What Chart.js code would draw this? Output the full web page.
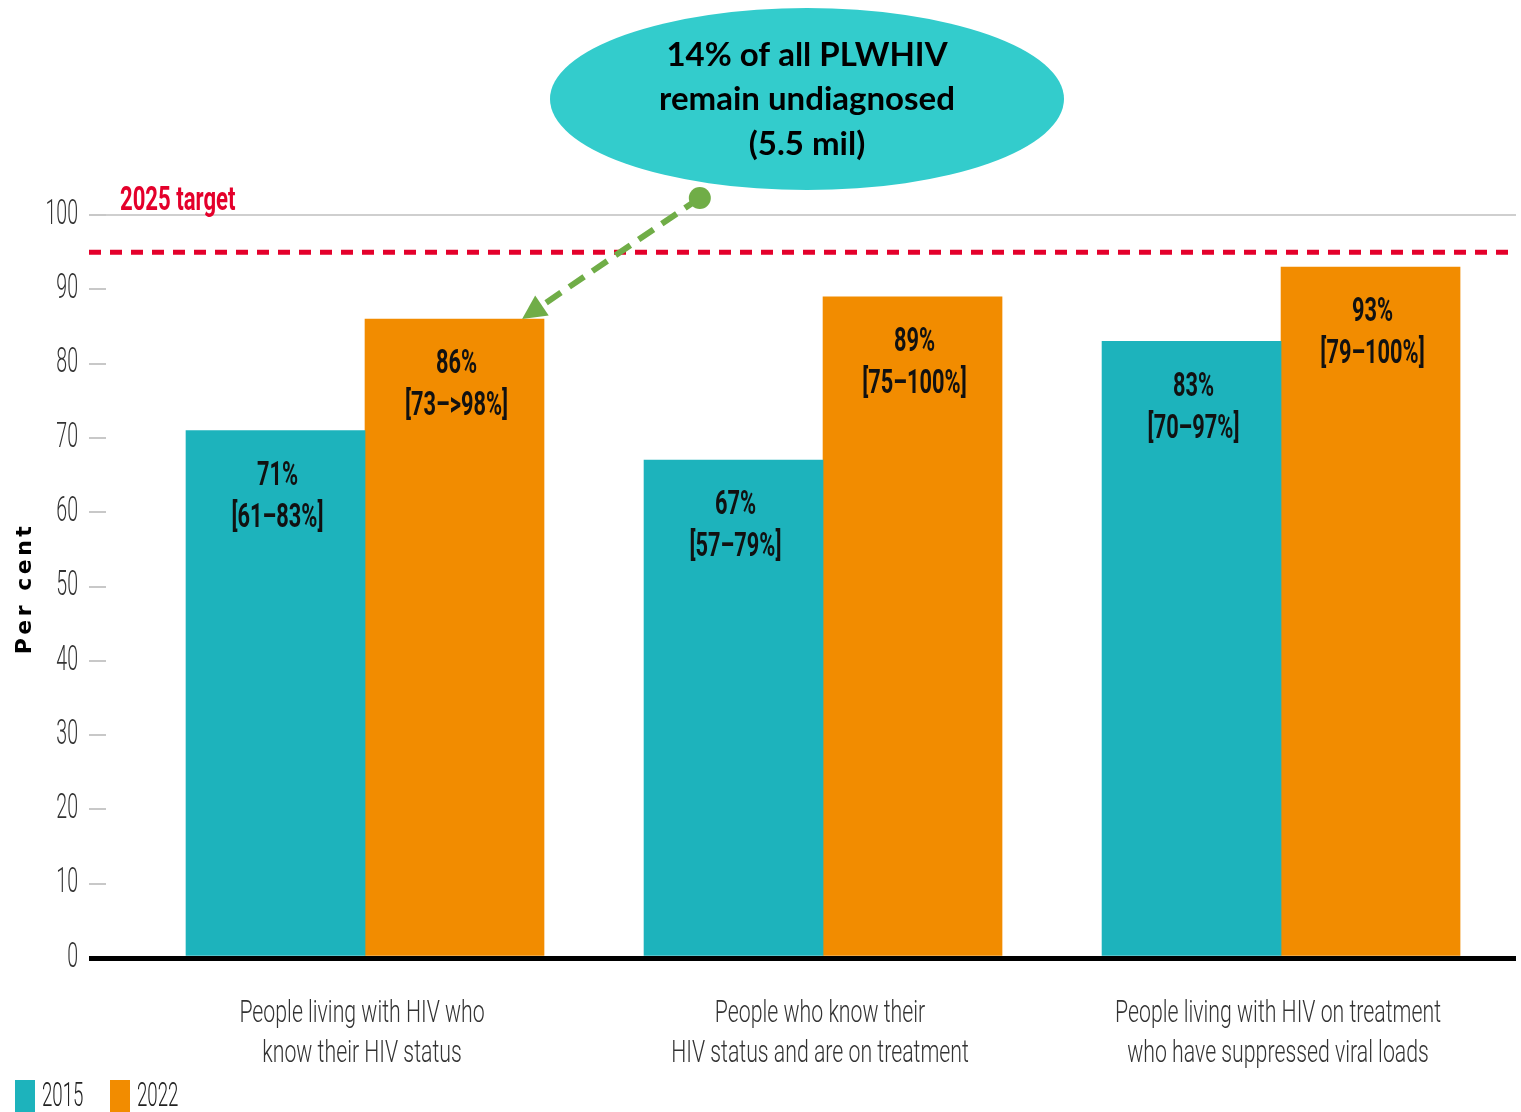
<!DOCTYPE html>
<html>
<head>
<meta charset="utf-8">
<script src="https://cdn.jsdelivr.net/npm/chart.js@4/dist/chart.umd.min.js"></script>
<style>
  html, body { margin: 0; padding: 0; background: #fff; }
  #wrap { width: 1521px; height: 1112px; position: relative; }
</style>
</head>
<body>
<div id="wrap"><canvas id="chart"></canvas></div>
<script>
// data
const categories = [
    ['People living with HIV who', 'know their HIV status'],
    ['People who know their', 'HIV status and are on treatment'],
    ['People living with HIV on treatment', 'who have suppressed viral loads']
];
const seriesNames = ['2015', '2022'];
const values2015 = [71, 67, 83];
const values2022 = [86, 89, 93];
const ranges2015 = ['[61–83%]', '[57–79%]', '[70–97%]'];
const ranges2022 = ['[73–>98%]', '[75–100%]', '[79–100%]'];
const yTickStep = 10;
const targetValue = 95;
const targetLabel = '2025 target';
const calloutLines = ['14% of all PLWHIV', 'remain undiagnosed', '(5.5 mil)'];

const teal = '#1db3bc';
const orange = '#f28c00';
const red = '#e4002b';
const green = '#70ad47';
const bubble = '#33cccc';

// narrow text, the source uses a very condensed face
function narrowText(ctx, text, x, y, font, color, align, sx) {
    ctx.save();
    ctx.font = font;
    ctx.fillStyle = color;
    ctx.textAlign = align || 'center';
    ctx.textBaseline = 'middle';
    ctx.translate(x, y);
    ctx.scale(sx || 0.6, 1);
    ctx.fillText(text, 0, 0);
    ctx.restore();
}

const extras = {
    id: 'extras',
    afterDraw(chart) {
        const ctx = chart.ctx;
        const xs = chart.scales.x;
        const ys = chart.scales.y;
        const area = chart.chartArea;

        // y tick labels
        ys.ticks.forEach(t => {
            narrowText(ctx, String(t.value), area.left - 28, ys.getPixelForValue(t.value),
                '300 35px Roboto', '#333', 'right', 0.56);
        });

        // category labels
        categories.forEach((lines, i) => {
            const cx = xs.getPixelForValue(i) - 3;
            lines.forEach((line, j) => {
                narrowText(ctx, line, cx, area.bottom + 56 + j * 40, '300 32px Roboto', '#333', 'center', 0.665);
            });
        });

        // y title
        ctx.save();
        ctx.translate(25, (area.top + area.bottom) / 2 + 2);
        ctx.rotate(-Math.PI / 2);
        ctx.font = 'bold 22px "DejaVu Sans"';
        ctx.letterSpacing = '3.5px';
        ctx.fillStyle = '#000';
        ctx.textAlign = 'center';
        ctx.textBaseline = 'middle';
        ctx.fillText('Per cent', 0, 0);
        ctx.restore();

        // value labels in the bars
        const ranges = [ranges2015, ranges2022];
        chart.data.datasets.forEach((ds, di) => {
            chart.getDatasetMeta(di).data.forEach((bar, i) => {
                narrowText(ctx, ds.data[i].y + '%', bar.x + 2, bar.y + 46, 'bold 33px Roboto', '#111', 'center', 0.66);
                narrowText(ctx, ranges[di][i], bar.x + 2, bar.y + 88, 'bold 33px Roboto', '#111', 'center', 0.66);
            });
        });

        // target line
        const ty = ys.getPixelForValue(targetValue);
        ctx.save();
        ctx.strokeStyle = red;
        ctx.lineWidth = 5;
        ctx.setLineDash([12, 9]);
        ctx.beginPath();
        ctx.moveTo(area.left - 17, ty);
        ctx.lineTo(area.right, ty);
        ctx.stroke();
        ctx.restore();
        narrowText(ctx, targetLabel, area.left + 14, ys.getPixelForValue(101.8), 'bold 34px Roboto', red, 'left', 0.65);

        // callout bubble
        const bx = xs.getPixelForValue(0.965);
        const by = ys.getPixelForValue(115.6);
        ctx.save();
        ctx.fillStyle = bubble;
        ctx.beginPath();
        ctx.ellipse(bx, by, 257, 91, 0, 0, Math.PI * 2);
        ctx.fill();
        ctx.fillStyle = '#000';
        ctx.font = 'bold 33px Lato';
        ctx.textAlign = 'center';
        ctx.textBaseline = 'middle';
        calloutLines.forEach((line, i) => ctx.fillText(line, bx, by - 44 + i * 44.5));
        ctx.restore();

        // green arrow
        const sx = xs.getPixelForValue(0.731), sy = ys.getPixelForValue(102.3);
        const ex = xs.getPixelForValue(0.343), ey = ys.getPixelForValue(values2022[0]);
        const ang = Math.atan2(ey - sy, ex - sx);
        const head = 24;
        ctx.save();
        ctx.strokeStyle = green;
        ctx.fillStyle = green;
        ctx.lineWidth = 6;
        ctx.setLineDash([18, 10]);
        ctx.beginPath();
        ctx.moveTo(sx, sy);
        ctx.lineTo(ex - Math.cos(ang) * head, ey - Math.sin(ang) * head);
        ctx.stroke();
        ctx.setLineDash([]);
        ctx.beginPath();
        ctx.arc(sx, sy, 11, 0, Math.PI * 2);
        ctx.fill();
        ctx.beginPath();
        ctx.moveTo(ex, ey);
        ctx.lineTo(ex - Math.cos(ang) * head + Math.sin(ang) * 12, ey - Math.sin(ang) * head - Math.cos(ang) * 12);
        ctx.lineTo(ex - Math.cos(ang) * head - Math.sin(ang) * 12, ey - Math.sin(ang) * head + Math.cos(ang) * 12);
        ctx.closePath();
        ctx.fill();
        ctx.restore();

        // legend
        let lx = 15;
        chart.data.datasets.forEach(ds => {
            ctx.fillStyle = ds.backgroundColor;
            ctx.fillRect(lx, 1080, 20, 34);
            narrowText(ctx, ds.label, lx + 27, 1097, '300 34px Roboto', '#222', 'left', 0.55);
            lx += 95;
        });
    }
};

new Chart(document.getElementById('chart'), {
    type: 'bar',
    data: {
        datasets: [
            { label: seriesNames[0], data: values2015.map((v, i) => ({ x: i, y: v })), backgroundColor: teal },
            { label: seriesNames[1], data: values2022.map((v, i) => ({ x: i, y: v })), backgroundColor: orange }
        ]
    },
    options: {
        responsive: true,
        maintainAspectRatio: false,
        animation: false,
        layout: { padding: { top: 215, right: 5, left: 0, bottom: 0 } },
        plugins: { legend: { display: false }, tooltip: { enabled: false } },
        datasets: { bar: { barThickness: 179 } },
        scales: {
            x: {
                type: 'linear',
                offset: false,
                min: -0.5655,
                max: 2.513,
                grid: { display: false },
                border: { display: false },
                ticks: { display: false },
                afterBuildTicks: s => { s.ticks = categories.map((c, i) => ({ value: i })); },
                afterFit: s => { s.height = 154; }
            },
            y: {
                min: 0,
                max: 100,
                z: 1,
                ticks: { display: false, stepSize: yTickStep },
                border: { display: false },
                grid: {
                    tickLength: 17,
                    color: c => c.tick.value === 100 ? '#cfcfcf' : (c.tick.value === 0 ? '#000' : 'rgba(0,0,0,0)'),
                    tickColor: c => c.tick.value === 0 ? '#000' : '#c8c8c8',
                    lineWidth: c => c.tick.value === 0 ? 5 : 2,
                    tickWidth: c => c.tick.value === 0 ? 5 : 2
                },
                afterFit: s => { s.width = 106; }
            }
        }
    },
    plugins: [extras]
});
</script>
</body>
</html>
